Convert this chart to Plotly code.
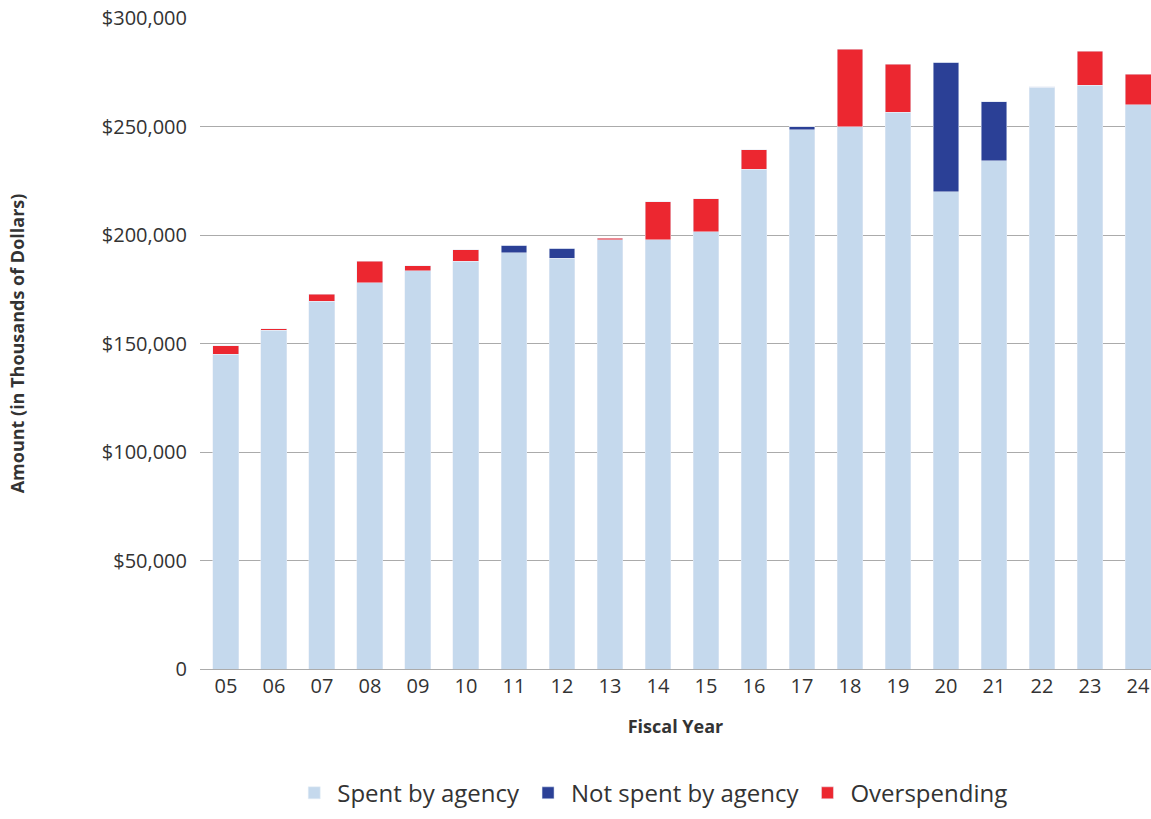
import plotly.graph_objects as go

years = ["05", "06", "07", "08", "09", "10", "11", "12", "13", "14",
         "15", "16", "17", "18", "19", "20", "21", "22", "23", "24"]
spent = [145000, 156000, 169400, 178100, 183600, 187800, 191900, 189200, 197900, 197900,
         201600, 230200, 248600, 250000, 256500, 220000, 234300, 268000, 268900, 260100]
not_spent = [0, 0, 0, 0, 0, 0, 3300, 4600, 0, 0,
             0, 0, 1400, 0, 0, 59500, 27200, 0, 0, 0]
overspending = [4000, 900, 3200, 9800, 2300, 5500, 0, 0, 500, 17500,
                15200, 9200, 0, 35500, 22100, 0, 0, 400, 15700, 13900]
y_ticks = [0, 50000, 100000, 150000, 200000, 250000, 300000]
y_tick_text = ["0", "$50,000", "$100,000", "$150,000", "$200,000", "$250,000", "$300,000"]

FONT = "Open Sans"

fig = go.Figure()
fig.add_trace(go.Bar(x=years, y=spent, name="Spent by agency", marker_color="#c5d9ed"))
fig.add_trace(go.Bar(x=years, y=not_spent, name="Not spent by agency", marker_color="#2b4096"))
fig.add_trace(go.Bar(x=years, y=overspending, name="Overspending", marker_color="#ec2730"))

fig.update_layout(
    width=1151, height=819,
    barmode="stack",
    bargap=0.46,
    plot_bgcolor="white", paper_bgcolor="white",
    margin=dict(l=200, r=0, t=18, b=150, autoexpand=False),
    font=dict(family=FONT, color="#333333", size=20),
    xaxis=dict(
        type="category",
        range=[-0.54, 19.27],
        showgrid=False,
        showline=False,
        ticklabelstandoff=3,
        tickfont=dict(size=20, color="#333333"),
        title=dict(text="<b>Fiscal Year</b>", font=dict(size=18, color="#333333"), standoff=22),
    ),
    yaxis=dict(
        range=[0, 300000],
        tickvals=y_ticks,
        ticktext=y_tick_text,
        showgrid=True,
        gridcolor="#ababab",
        gridwidth=1.3,
        zeroline=True,
        zerolinecolor="#ababab",
        zerolinewidth=1.3,
        ticklabelstandoff=12,
        tickfont=dict(size=20, color="#333333"),
        title=dict(text="<b>Amount (in Thousands of Dollars)</b>", font=dict(size=18, color="#333333"), standoff=72),
    ),
    legend=dict(
        orientation="h",
        x=0.475, xanchor="center",
        yref="container",
        y=0.004, yanchor="bottom",
        font=dict(size=24, color="#333333"),
        traceorder="normal",
        itemwidth=36,
    ),
)

fig.write_html("out.html")
